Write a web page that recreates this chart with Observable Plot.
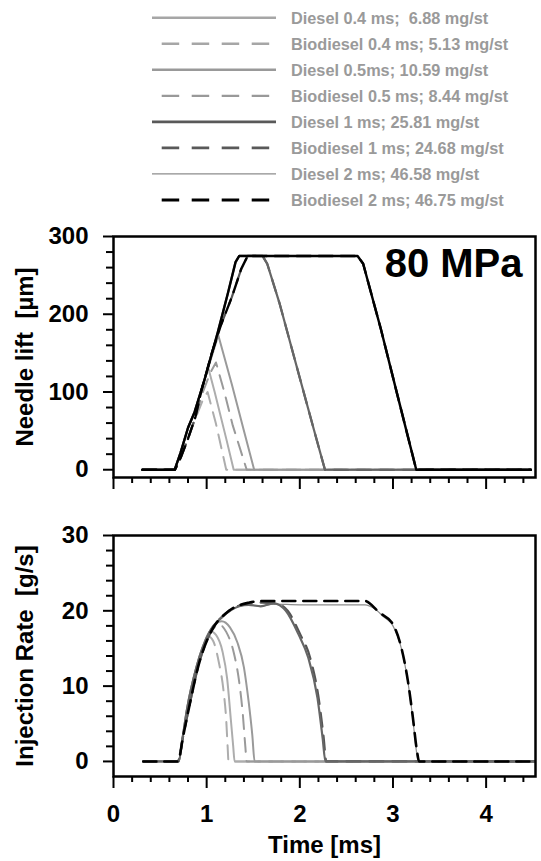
<!DOCTYPE html>
<html><head><meta charset="utf-8">
<script src="https://cdn.jsdelivr.net/npm/d3@7"></script>
<script src="https://cdn.jsdelivr.net/npm/@observablehq/plot@0.6"></script>
<style>
html,body{margin:0;padding:0;background:#fff;}
#wrap{position:relative;width:541px;height:861px;overflow:hidden;font-family:"Liberation Sans",Arial,sans-serif;}
#wrap svg{position:absolute;left:0;}
</style></head><body><div id="wrap"></div>
<script>
// ---------- data ----------
const seriesNames = [
  "Diesel 0.4 ms;  6.88 mg/st",
  "Biodiesel 0.4 ms; 5.13 mg/st",
  "Diesel 0.5ms; 10.59 mg/st",
  "Biodiesel 0.5 ms; 8.44 mg/st",
  "Diesel 1 ms; 25.81 mg/st",
  "Biodiesel 1 ms; 24.68 mg/st",
  "Diesel 2 ms; 46.58 mg/st",
  "Biodiesel 2 ms; 46.75 mg/st"
];
const xTicks = [0, 1, 2, 3, 4];
const liftTicks = [0, 100, 200, 300];
const rateTicks = [0, 10, 20, 30];
const pressureLabel = "80 MPa";
const liftTitle = "Needle lift  [µm]";
const rateTitle = "Injection Rate  [g/s]";
const timeTitle = "Time [ms]";

// Needle lift [µm] vs time [ms]
const liftD04 = [[0.31,0],[0.657,0],[0.72,22],[0.80,54],[0.87,74],[0.98,117],[1.02,130],[1.086,100],[1.21,40],[1.29,0],[4.48,0]];
const liftB04 = [[0.31,0],[0.66,0],[0.72,15],[0.80,40],[0.88,66],[0.96,90],[1.01,100],[1.10,59],[1.21,0],[4.48,0]];
const liftD05 = [[0.31,0],[0.657,0],[0.72,22],[0.80,54],[0.87,74],[0.98,117],[1.125,173],[1.27,110],[1.40,50],[1.51,0],[4.48,0]];
const liftB05 = [[0.31,0],[0.66,0],[0.72,15],[0.80,40],[0.88,68],[0.96,100],[1.04,125],[1.10,138],[1.19,100],[1.28,57],[1.43,0],[4.48,0]];
const liftD1  = [[0.31,0],[0.657,0],[0.72,22],[0.80,54],[0.87,74],[0.98,117],[1.12,177],[1.23,228],[1.31,267],[1.35,275],[1.60,275],[1.65,265],[1.78,215],[2.0,118],[2.15,52],[2.27,0],[4.48,0]];
const liftB1  = [[0.31,0],[0.66,0],[0.72,15],[0.80,40],[0.88,68],[0.94,100],[1.05,148],[1.15,185],[1.27,222],[1.37,258],[1.44,275],[1.60,275],[1.65,265],[1.78,215],[2.0,118],[2.15,52],[2.27,0],[4.48,0]];
const liftD2  = [[0.31,0],[0.657,0],[0.72,22],[0.80,54],[0.87,74],[0.98,117],[1.12,177],[1.23,228],[1.31,267],[1.35,275],[2.62,275],[2.68,265],[2.87,181],[3.05,95],[3.25,0],[4.48,0]];
const liftB2  = [[0.31,0],[0.66,0],[0.72,15],[0.80,40],[0.88,68],[0.94,100],[1.05,148],[1.15,185],[1.27,222],[1.37,258],[1.44,275],[2.62,275],[2.68,265],[2.87,181],[3.05,95],[3.25,0],[4.48,0]];

// Injection rate [g/s] vs time [ms]
const rateD04 = [[0.32,0],[0.70,0],[0.74,3],[0.79,7],[0.89,12.5],[0.97,15.6],[1.04,17.3],[1.10,16.8],[1.17,14.6],[1.22,11],[1.26,5.5],[1.285,2],[1.30,0],[4.52,0]];
const rateB04 = [[0.32,0],[0.69,0],[0.75,3.5],[0.81,7.1],[0.92,13.1],[0.98,15.5],[1.02,16.6],[1.07,16.0],[1.13,13.2],[1.18,9.5],[1.21,5.5],[1.225,2],[1.235,0],[4.52,0]];
const rateD05 = [[0.32,0],[0.70,0],[0.74,3],[0.79,7],[0.89,12.5],[1.03,17.2],[1.10,18.3],[1.16,18.6],[1.25,17.8],[1.33,15.8],[1.40,12.5],[1.45,8],[1.49,3.5],[1.515,0],[4.52,0]];
const rateB05 = [[0.32,0],[0.69,0],[0.75,3.5],[0.81,7.1],[0.92,13.1],[1.03,16.8],[1.10,18.0],[1.13,18.2],[1.21,17.2],[1.29,14.5],[1.35,10.5],[1.39,6],[1.415,2],[1.43,0],[4.52,0]];
const rateD1  = [[0.32,0],[0.70,0],[0.74,3],[0.79,7],[0.89,12.5],[1.03,17.2],[1.17,19.2],[1.35,20.6],[1.45,20.8],[1.58,20.6],[1.72,21.0],[1.85,20.0],[1.985,16.9],[2.09,13.8],[2.19,8.4],[2.245,3.1],[2.275,0],[4.52,0]];
const rateB1  = [[0.32,0],[0.69,0],[0.75,3.5],[0.81,7.1],[0.92,13.1],[1.03,16.8],[1.24,20.0],[1.46,21.0],[1.60,21.1],[1.74,21.0],[1.87,20.0],[2.0,17.0],[2.11,13.8],[2.2,8.6],[2.255,3.3],[2.285,0],[4.52,0]];
const rateD2  = [[0.32,0],[0.70,0],[0.74,3],[0.79,7],[0.89,12.5],[1.03,17.2],[1.17,19.2],[1.35,20.6],[1.45,20.8],[1.58,20.6],[1.72,20.9],[2.0,20.8],[2.70,20.8],[2.80,20.3],[2.90,19.2],[3.0,18.0],[3.09,15.0],[3.16,10.6],[3.21,6.0],[3.25,1.5],[3.27,0],[4.52,0]];
const rateB2  = [[0.32,0],[0.69,0],[0.75,3.5],[0.81,7.1],[0.92,13.1],[1.03,16.8],[1.24,20.0],[1.46,21.1],[1.60,21.3],[2.70,21.3],[2.85,19.8],[3.0,18.2],[3.09,15.1],[3.16,10.7],[3.21,6.2],[3.26,1.2],[3.28,0],[4.52,0]];

// ---------- styles ----------
const FONT = "'Liberation Sans', Arial, sans-serif";
const W = 541;
const DASH_LEG = "17.5,12.5";
const legendStyle = [
  {stroke:"#a6a6a6", w:2.6, dash:null},
  {stroke:"#a6a6a6", w:2.4, dash:DASH_LEG},
  {stroke:"#999999", w:2.6, dash:null},
  {stroke:"#999999", w:2.4, dash:DASH_LEG},
  {stroke:"#595959", w:2.8, dash:null},
  {stroke:"#595959", w:2.6, dash:DASH_LEG},
  {stroke:"#8c8c8c", w:1.2, dash:null},
  {stroke:"#000000", w:2.8, dash:DASH_LEG}
];
const D = "14,9";
const topSeries = [
  {d:liftB04, stroke:"#adadad", w:2, dash:D},
  {d:liftD04, stroke:"#adadad", w:2, dash:null},
  {d:liftB05, stroke:"#9a9a9a", w:2, dash:D},
  {d:liftD05, stroke:"#9a9a9a", w:2, dash:null},
  {d:liftB1,  stroke:"#555555", w:2.2, dash:D},
  {d:liftD1,  stroke:"#666666", w:2.2, dash:null},
  {d:liftB2,  stroke:"#000000", w:2.4, dash:"14,8"},
  {d:liftD2,  stroke:"#000000", w:2.4, dash:null}
];
const botSeries = [
  {d:rateD2,  stroke:"#8c8c8c", w:1.2, dash:null},
  {d:rateB04, stroke:"#adadad", w:2, dash:D},
  {d:rateD04, stroke:"#adadad", w:2, dash:null},
  {d:rateB05, stroke:"#9a9a9a", w:2, dash:D},
  {d:rateD05, stroke:"#9a9a9a", w:2, dash:null},
  {d:rateB1,  stroke:"#555555", w:2.2, dash:D},
  {d:rateD1,  stroke:"#666666", w:2.2, dash:null},
  {d:rateB2,  stroke:"#000000", w:2.6, dash:"13,8"}
];

const wrap = document.getElementById("wrap");

// ---------- legend ----------
const leg = d3.select(wrap).append("svg")
  .attr("width", W).attr("height", 215).style("top", "0px");
const rowY = d3.scaleLinear().domain([0, 7]).range([17.7, 200]);
seriesNames.forEach((name, i) => {
  const s = legendStyle[i];
  const y = rowY(i);
  leg.append("line")
    .attr("x1", s.dash ? 161.7 : 152).attr("x2", 276)
    .attr("y1", y).attr("y2", y)
    .attr("stroke", s.stroke).attr("stroke-width", s.w)
    .attr("stroke-dasharray", s.dash);
  leg.append("text")
    .attr("x", 291).attr("y", y + 6)
    .attr("font-family", FONT).attr("font-weight", "bold")
    .attr("font-size", 16.3).attr("fill", "#9a9a9a")
    .style("white-space", "pre")
    .text(name);
});

function lineMarks(series, curve) {
  return series.map(s => Plot.line(s.d, {
    x: d => d[0], y: d => d[1],
    stroke: s.stroke, strokeWidth: s.w,
    strokeDasharray: s.dash ?? undefined,
    curve
  }));
}

const xDomain = [0, 4.53];
const minorX = d3.range(0, 4.5, 0.2).map(v => +v.toFixed(1)).filter(v => !xTicks.includes(v));
const fmt = d => String(d);
const axisCommon = {fontSize: 24, fontWeight: "bold", fill: "#000", strokeWidth: 2, label: null, tickFormat: fmt};
const titleCommon = {fontSize: 24, fontWeight: "bold", fill: "#000", lineAnchor: "middle", textAnchor: "middle"};

// ---------- top panel ----------
const minorLift = d3.range(0, 301, 20).filter(v => !liftTicks.includes(v));
const liftPlot = Plot.plot({
  width: W, height: 277,
  marginTop: 16, marginBottom: 20, marginLeft: 113, marginRight: 6,
  x: {domain: xDomain},
  y: {domain: [-10, 300]},
  style: {fontFamily: FONT, background: "transparent", overflow: "visible"},
  marks: [
    ...lineMarks(topSeries, "linear"),
    Plot.axisX({ticks: xTicks, tickSize: 12, tickFormat: () => "", strokeWidth: 2, label: null}),
    Plot.axisX({ticks: minorX, tickSize: 6, tickFormat: () => "", strokeWidth: 2, label: null}),
    Plot.axisY({ticks: liftTicks, tickSize: 10, tickPadding: 15, ...axisCommon}),
    Plot.axisY({ticks: minorLift, tickSize: 7, tickFormat: () => "", strokeWidth: 2, label: null}),
    Plot.frame({stroke: "#000", strokeWidth: 2.5}),
    Plot.text([pressureLabel], {frameAnchor: "top-right", dx: -13, dy: 28, lineAnchor: "middle", textAnchor: "end",
      fontSize: 40, fontWeight: "bold", fill: "#000"}),
    Plot.text([liftTitle], {frameAnchor: "left", dx: -88, rotate: -90, ...titleCommon})
  ]
});
liftPlot.style.top = "220px";
wrap.appendChild(liftPlot);

// ---------- bottom panel ----------
const minorRate = d3.range(0, 31, 2).filter(v => !rateTicks.includes(v));
const ratePlot = Plot.plot({
  width: W, height: 342,
  marginTop: 16, marginBottom: 85, marginLeft: 113, marginRight: 6,
  x: {domain: xDomain},
  y: {domain: [-2, 30]},
  style: {fontFamily: FONT, background: "transparent", overflow: "visible"},
  marks: [
    ...lineMarks(botSeries, "monotone-x"),
    Plot.axisX({ticks: xTicks, tickSize: 12, tickPadding: 16, ...axisCommon}),
    Plot.axisX({ticks: minorX, tickSize: 6, tickFormat: () => "", strokeWidth: 2, label: null}),
    Plot.axisY({ticks: rateTicks, tickSize: 10, tickPadding: 15, ...axisCommon}),
    Plot.axisY({ticks: minorRate, tickSize: 7, tickFormat: () => "", strokeWidth: 2, label: null}),
    Plot.frame({stroke: "#000", strokeWidth: 2.5}),
    Plot.text([rateTitle], {frameAnchor: "left", dx: -88, rotate: -90, ...titleCommon}),
    Plot.text([timeTitle], {frameAnchor: "bottom", dy: 69, ...titleCommon})
  ]
});
ratePlot.style.top = "519px";
wrap.appendChild(ratePlot);
</script></body></html>
